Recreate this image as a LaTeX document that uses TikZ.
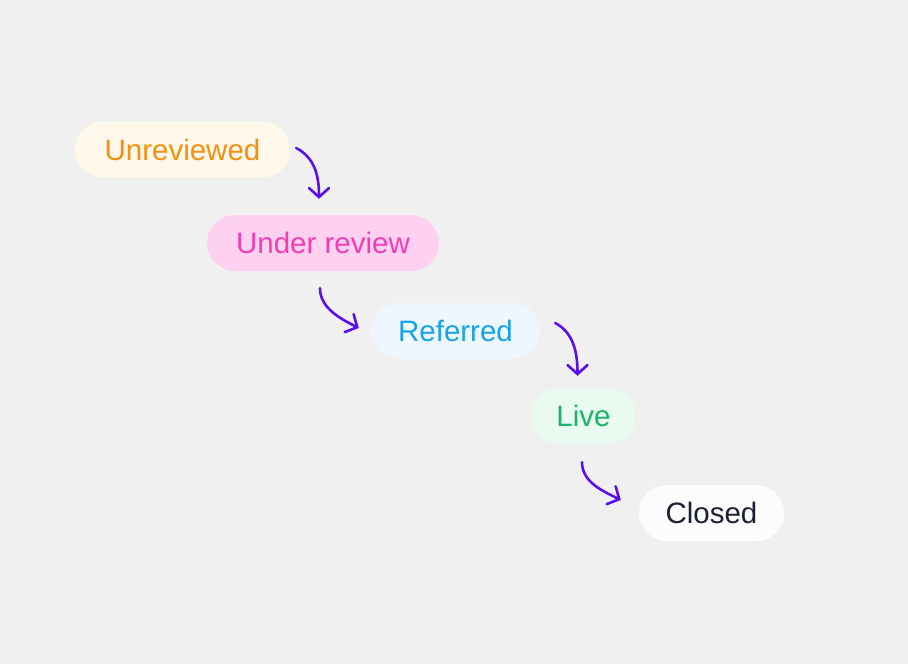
\documentclass[tikz,border=0pt]{standalone}
\usepackage{fontspec}
\setmainfont{Liberation Sans}
\usetikzlibrary{arrows.meta,calc}
\definecolor{bgc}{HTML}{F0F0F0}
\definecolor{arrc}{HTML}{5A0FF0}
\definecolor{uf}{HTML}{FFF8EB}\definecolor{ut}{HTML}{F5900F}
\definecolor{rf}{HTML}{FFD1F0}\definecolor{rt}{HTML}{F23DB3}
\definecolor{ff}{HTML}{EFF7FE}\definecolor{ft}{HTML}{18A3E8}
\definecolor{lf}{HTML}{E9FBF1}\definecolor{lt}{HTML}{1BB36A}
\definecolor{cf}{HTML}{FCFCFD}\definecolor{ct}{HTML}{1C2033}
\tikzset{
  pill/.style={rounded corners=28pt, minimum height=56pt, inner sep=0pt,
    font=\fontsize{29.5}{35}\selectfont},
  flow/.style={draw=arrc, line width=2.6pt, line cap=round, line join=round,
    -{Straight Barb[length=9pt,width=20pt,line cap=round]}}
}
\begin{document}
\begin{tikzpicture}[x=1pt,y=-1pt]
\fill[bgc] (0,0) rectangle (908,664);
\useasboundingbox (0,0) rectangle (908,664);
\node[pill, fill=uf, text=ut, minimum width=215pt] (u) at (182.5,149.5) {Unreviewed};
\node[pill, fill=rf, text=rt, minimum width=232pt] (ur) at (323,243) {Under review};
\node[pill, fill=ff, text=ft, minimum width=169pt] (ref) at (455.5,331) {Referred};
\node[pill, fill=lf, text=lt, minimum width=105pt] (live) at (583.5,416) {Live};
\node[pill, fill=cf, text=ct, minimum width=145pt] (cl) at (711.5,513) {Closed};
\draw[flow] ($(u.east)+(6,-1.5)$) .. controls +(17,9) and +(0,-26) .. ($(ur.north)+(-4,-16)$);
\draw[flow] ($(ur.south)+(-3,17)$) .. controls +(0,20) and +(-18,-9) .. ($(ref.west)+(-12,-3)$);
\draw[flow] ($(ref.east)+(15,-8)$) .. controls +(17,9) and +(0,-26) .. ($(live.north)+(-6,-12)$);
\draw[flow] ($(live.south)+(-1.5,18)$) .. controls +(0,20) and +(-18,-9) .. ($(cl.west)+(-18,-13)$);
\end{tikzpicture}
\end{document}
